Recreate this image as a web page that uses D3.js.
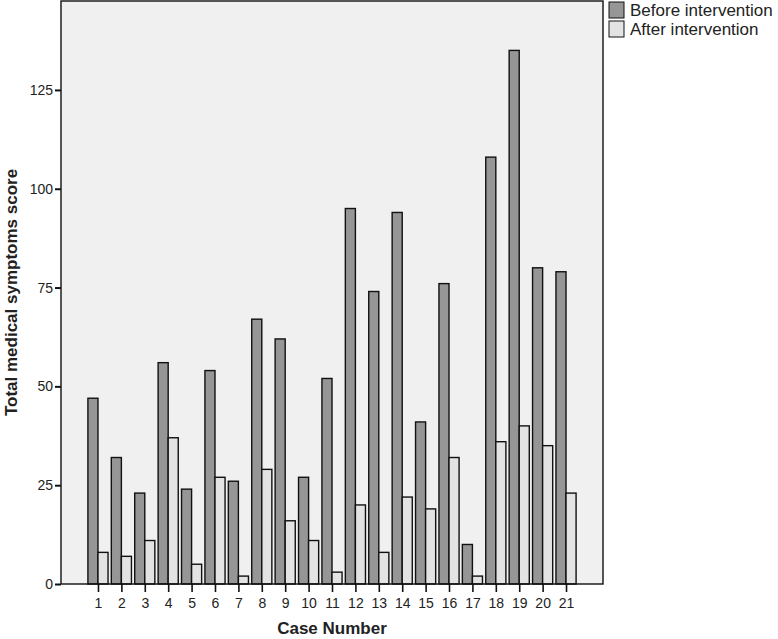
<!DOCTYPE html>
<html>
<head>
<meta charset="utf-8">
<script src="https://cdn.jsdelivr.net/npm/d3@7"></script>
<style>
  body { margin: 0; background: #fff; }
  svg text { font-family: "Liberation Sans", Arial, sans-serif; fill: #222; }
</style>
</head>
<body>
<div id="chart"></div>
<script>
// Case numbers on the x axis
const cases = d3.range(1, 22).map(String);

// Total medical symptoms score per case
const beforeValues = [47, 32, 23, 56, 24, 54, 26, 67, 62, 27, 52, 95, 74, 94, 41, 76, 10, 108, 135, 80, 79];
const afterValues = [8, 7, 11, 37, 5, 27, 2, 29, 16, 11, 3, 20, 8, 22, 19, 32, 2, 36, 40, 35, 23];

const seriesNames = ["Before intervention", "After intervention"];
const yTicks = [0, 25, 50, 75, 100, 125];

const colors = ["#969696", "#e3e3e3"];

// chart box
const margin = { top: 1, right: 175, bottom: 55, left: 61 };
const width = 778 - margin.left - margin.right;
const height = 639 - margin.top - margin.bottom;

const svg = d3.select("#chart")
  .append("svg")
  .attr("width", 778)
  .attr("height", 639);

const g = svg.append("g")
  .attr("transform", "translate(" + margin.left + "," + margin.top + ")");

// scales
const x = d3.scalePoint()
  .domain(cases)
  .range([0, width])
  .padding(1.58);

const y = d3.scaleLinear()
  .domain([0, 147.5])
  .range([height, 0]);

const barW = x.step() * 0.43;

// background
g.append("rect")
  .attr("width", width)
  .attr("height", height)
  .attr("fill", "#f0f0f0");

// bars
const rows = cases.map((c, i) => ({ c, before: beforeValues[i], after: afterValues[i] }));

g.selectAll(".before")
  .data(rows)
  .enter()
  .append("rect")
  .attr("class", "before")
  .attr("x", d => x(d.c) - barW)
  .attr("y", d => y(d.before))
  .attr("width", barW)
  .attr("height", d => y(0) - y(d.before))
  .attr("fill", colors[0])
  .attr("stroke", "#111")
  .attr("stroke-width", 1.4);

g.selectAll(".after")
  .data(rows)
  .enter()
  .append("rect")
  .attr("class", "after")
  .attr("x", d => x(d.c))
  .attr("y", d => y(d.after))
  .attr("width", barW)
  .attr("height", d => y(0) - y(d.after))
  .attr("fill", colors[1])
  .attr("stroke", "#111")
  .attr("stroke-width", 1.4);

// frame
g.append("rect")
  .attr("width", width)
  .attr("height", height)
  .attr("fill", "none")
  .attr("stroke", "#111")
  .attr("stroke-width", 1.4);

// y axis
const yAxis = g.append("g")
  .call(d3.axisLeft(y).tickValues(yTicks).tickSize(6).tickPadding(2));
yAxis.select(".domain").remove();
yAxis.selectAll("line").attr("stroke", "#111").attr("stroke-width", 2);
yAxis.selectAll("text").style("font-size", "14px").attr("fill", "#222");

// x axis
const xAxis = g.append("g")
  .attr("transform", "translate(0," + height + ")")
  .call(d3.axisBottom(x).tickSize(8).tickPadding(6));
xAxis.select(".domain").remove();
xAxis.selectAll("line").attr("stroke", "#111").attr("stroke-width", 1.6);
xAxis.selectAll("text").style("font-size", "14px").attr("fill", "#222");

// axis titles
g.append("text")
  .attr("x", width / 2)
  .attr("y", height + 50)
  .attr("text-anchor", "middle")
  .style("font-size", "17px")
  .style("font-weight", "bold")
  .text("Case Number");

g.append("text")
  .attr("transform", "translate(" + (-44) + "," + (height / 2) + ") rotate(-90)")
  .attr("text-anchor", "middle")
  .style("font-size", "17px")
  .style("font-weight", "bold")
  .text("Total medical symptoms score");

// legend
const legend = svg.append("g")
  .attr("transform", "translate(609,2)");

seriesNames.forEach((name, i) => {
  const row = legend.append("g").attr("transform", "translate(0," + i * 19 + ")");
  row.append("rect")
    .attr("width", 15)
    .attr("height", 16)
    .attr("fill", colors[i])
    .attr("stroke", "#111")
    .attr("stroke-width", 1);
  row.append("text")
    .attr("x", 21)
    .attr("y", 14)
    .style("font-size", "17px")
    .text(name);
});
</script>
</body>
</html>
